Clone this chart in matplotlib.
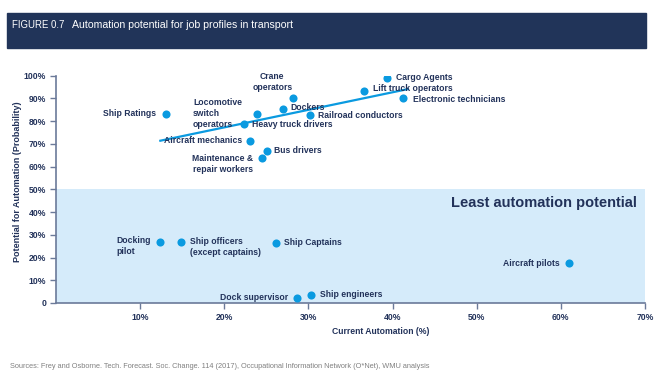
import matplotlib
matplotlib.use("Agg")
import matplotlib.pyplot as plt
from matplotlib.patches import Rectangle
from matplotlib.ticker import FuncFormatter

# Datos
jobs = ["Cargo Agents", "Lift truck operators", "Electronic technicians",
        "Crane\noperators", "Dockers", "Railroad conductors",
        "Locomotive\nswitch\noperators", "Heavy truck drivers", "Ship Ratings",
        "Aircraft mechanics", "Bus drivers", "Maintenance &\nrepair workers",
        "Docking\npilot", "Ship officers\n(except captains)", "Ship Captains",
        "Dock supervisor", "Ship engineers", "Aircraft pilots"]
current_auto = [39.3, 36.6, 41.2, 28.2, 27.0, 30.2, 23.9, 22.4, 13.1,
                23.1, 25.1, 24.5, 12.4, 14.8, 26.1, 28.6, 30.3, 61.0]
potential = [99.2, 93.4, 90.2, 90.2, 85.5, 82.5, 83.1, 78.7, 83.3,
             71.4, 67.0, 63.6, 26.9, 26.9, 26.4, 2.3, 3.7, 17.5]
trend_x = [12.4, 41.8]
trend_y = [71.4, 94.1]
y_ticks = [0, 10, 20, 30, 40, 50, 60, 70, 80, 90, 100]
x_ticks = [10, 20, 30, 40, 50, 60, 70]

# Posicion de las etiquetas (dx, dy en pixeles, alineacion)
label_pos = [(9, 0, "left"), (9, 2, "left"), (10, -2, "left"),
             (-21, 16, "center"), (7, 1, "left"), (8, 0, "left"),
             (-64, 1, "left"), (8, 0, "left"), (-10, 0, "right"),
             (-8, 0, "right"), (7, 0, "left"), (-9, -6, "right"),
             (-9, -4, "right"), (9, -5, "left"), (8, 0, "left"),
             (-9, 0, "right"), (9, 0, "left"), (-10, 0, "right")]
multi_align = {3: "center", 11: "center", 12: "left", 13: "left", 6: "left"}

NAVY = "#22325a"
BLUE = "#0a9ae0"
NARROW = ["Liberation Sans Narrow", "Liberation Sans", "DejaVu Sans"]
plt.rcParams["font.family"] = ["Liberation Sans", "DejaVu Sans"]

fig = plt.figure(figsize=(6.59, 3.85), dpi=100)

# Barra del titulo
fig.patches.append(Rectangle((7 / 659, 1 - 48 / 385), 639 / 659, 35 / 385,
                             transform=fig.transFigure, color="#213459", zorder=0))
fig.text(12.5 / 659, 1 - 25 / 385, "FIGURE 0.7", color="white", fontsize=6.9,
         family=NARROW, va="center")
fig.text(72.5 / 659, 1 - 25 / 385, "Automation potential for job profiles in transport",
         color="white", fontsize=7.6, family=NARROW, va="center")

ax = fig.add_axes([56 / 659, 1 - 303 / 385, 589 / 659, 227.3 / 385])
ax.set_xlim(0, 70)
ax.set_ylim(0, 100)

# Zona de menor potencial
ax.axhspan(0, 50, color="#d5ebfa", zorder=0, lw=0)
ax.text(69, 47, "Least automation potential", ha="right", va="top",
        fontsize=10.5, fontweight="bold", color=NAVY)

ax.plot(trend_x, trend_y, color=BLUE, lw=1.6, zorder=2)
ax.scatter(current_auto, potential, s=34, color=BLUE, zorder=3, lw=0)

for i, (name, x, y) in enumerate(zip(jobs, current_auto, potential)):
    dx, dy, ha = label_pos[i]
    ax.annotate(name, (x, y), xytext=(dx, dy), textcoords="offset pixels",
                ha=ha, va="center", fontsize=6.2, fontweight="bold", color=NAVY,
                multialignment=multi_align.get(i, ha),
                linespacing=1.3, zorder=4)

for side in ["top", "right"]:
    ax.spines[side].set_visible(False)
for side in ["left", "bottom"]:
    ax.spines[side].set_color("#6b7a99")
    ax.spines[side].set_linewidth(1.2)

ax.set_yticks(y_ticks)
ax.set_xticks(x_ticks)
ax.yaxis.set_major_formatter(FuncFormatter(lambda v, p: "0" if v == 0 else f"{v:.0f}%"))
ax.xaxis.set_major_formatter(FuncFormatter(lambda v, p: f"{v:.0f}%"))
ax.tick_params(colors="#6b7a99", labelcolor=NAVY, labelsize=6.2, length=4, width=1, pad=3)
for lbl in ax.get_xticklabels() + ax.get_yticklabels():
    lbl.set_fontweight("bold")

ax.set_ylabel("Potential for Automation (Probability)", fontsize=6.5,
              fontweight="bold", color=NAVY)
ax.yaxis.set_label_coords(-0.058, 0.535)
ax.set_xlabel("Current Automation (%)", fontsize=6.2, fontweight="bold", color=NAVY)
ax.xaxis.set_label_coords(0.552, -0.105)

fig.text(9.5 / 659, 1 - 367 / 385,
         "Sources: Frey and Osborne. Tech. Forecast. Soc. Change. 114 (2017), "
         "Occupational Information Network (O*Net), WMU analysis",
         color="#808080", fontsize=5.3, family=NARROW, va="center")

fig.savefig("out.png", dpi=100)
